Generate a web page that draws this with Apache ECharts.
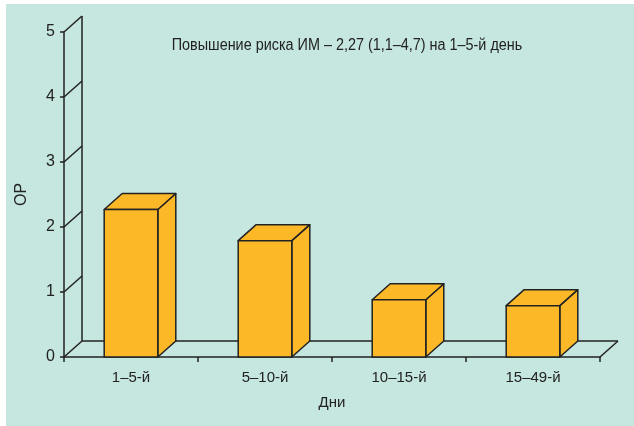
<!DOCTYPE html>
<html>
<head>
<meta charset="utf-8">
<style>
  html, body { margin: 0; padding: 0; background: #ffffff; }
  #chart { width: 634px; height: 426px; }
</style>
<script src="https://cdn.jsdelivr.net/npm/echarts@6/dist/echarts.min.js"></script>
</head>
<body>
<div id="chart"></div>
<script>
// Relative risk (OR) of MI by day interval
const categories = ['1–5-й', '5–10-й', '10–15-й', '15–49-й'];
const orValues = [2.27, 1.79, 0.88, 0.79];
const yTicks = [0, 1, 2, 3, 4, 5];
const titleText = 'Повышение риска ИМ – 2,27 (1,1–4,7) на 1–5-й день';

const FONT = '"Liberation Sans", Arial, sans-serif';
const INK = '#222222';
const BAR = '#FDB827';
const DX = 18, DY = -16;   // depth offset of the pseudo-3D box

const chart = echarts.init(document.getElementById('chart'), null, { renderer: 'canvas' });

function line(x1, y1, x2, y2) {
  return { type: 'line', shape: { x1, y1, x2, y2 },
           style: { stroke: INK, lineWidth: 1.5 } };
}

// wall diagonals, back wall edge and floor outline
function renderFrame(params, api) {
  const cs = params.coordSys;
  const v = api.value(0);
  const p = api.coord([0, v]);
  const y = p[1];
  const x0 = cs.x;
  const children = [];
  if (v > 0) {
    children.push(line(x0, y, x0 + DX, y + DY));
  } else {
    const right = cs.x + cs.width;
    const top = api.coord([0, yTicks[yTicks.length - 1]])[1];
    children.push(line(x0 + DX, y + DY, x0 + DX, top + DY));
    children.push(line(x0, y, x0 + DX, y + DY));
    children.push(line(x0 + DX, y + DY, right + DX, y + DY));
    children.push(line(right, y, right + DX, y + DY));
  }
  return { type: 'group', children };
}

// a box per category: front face, top and right side
function renderBar(params, api) {
  const idx = api.value(0);
  const val = api.value(1);
  const topPt = api.coord([idx, val]);
  const basePt = api.coord([idx, 0]);
  const band = api.size([1, 0])[0];
  const w = band * 0.4;
  const xl = topPt[0] - w / 2, xr = topPt[0] + w / 2;
  const yt = topPt[1], yb = basePt[1];
  const st = { fill: BAR, stroke: INK, lineWidth: 1.5, lineJoin: 'round' };
  return {
    type: 'group',
    children: [
      { type: 'polygon', shape: { points: [[xr, yb], [xr + DX, yb + DY], [xr + DX, yt + DY], [xr, yt]] }, style: st },
      { type: 'polygon', shape: { points: [[xl, yt], [xl + DX, yt + DY], [xr + DX, yt + DY], [xr, yt]] }, style: st },
      { type: 'rect', shape: { x: xl, y: yt, width: w, height: yb - yt }, style: st }
    ]
  };
}

chart.setOption({
  backgroundColor: '#ffffff',
  animation: false,
  textStyle: { fontFamily: FONT },
  graphic: [
    { type: 'rect', z: -10, silent: true,
      shape: { x: 6, y: 4, width: 640, height: 430 },
      style: { fill: '#C6E6E0' } },
    { type: 'text', x: 347, y: 46, z: 10, scaleX: 0.9,
      style: { text: titleText, fill: INK, font: '16px ' + FONT,
               align: 'center', verticalAlign: 'middle' } }
  ],
  grid: { left: 64, right: 34, top: 32, bottom: 69 },
  xAxis: {
    type: 'category',
    data: categories,
    boundaryGap: true,
    name: 'Дни',
    nameLocation: 'middle',
    nameGap: 38,
    nameTextStyle: { color: INK, fontSize: 15, fontFamily: FONT },
    axisLine: { lineStyle: { color: INK, width: 1.5 } },
    axisTick: { show: true, length: 5, lineStyle: { color: INK, width: 1.5 } },
    axisLabel: { color: INK, fontSize: 15, margin: 13, fontFamily: FONT },
    splitLine: { show: false }
  },
  yAxis: {
    type: 'value',
    min: 0, max: 5, interval: 1,
    name: 'ОР',
    nameLocation: 'middle',
    nameGap: 34,
    nameTextStyle: { color: INK, fontSize: 16, fontFamily: FONT },
    axisLine: { show: true, lineStyle: { color: INK, width: 1.5 } },
    axisTick: { show: true, length: 4, lineStyle: { color: INK, width: 1.5 } },
    axisLabel: { color: INK, fontSize: 16, margin: 9, fontFamily: FONT },
    splitLine: { show: false }
  },
  series: [
    {
      type: 'custom',
      name: 'frame',
      renderItem: renderFrame,
      data: yTicks.map(v => [v]),
      encode: { y: 0 },
      silent: true,
      z: 1
    },
    {
      type: 'custom',
      name: 'OR',
      renderItem: renderBar,
      data: orValues.map((v, i) => [i, v]),
      encode: { x: 0, y: 1 },
      z: 2
    }
  ]
});
</script>
</body>
</html>
